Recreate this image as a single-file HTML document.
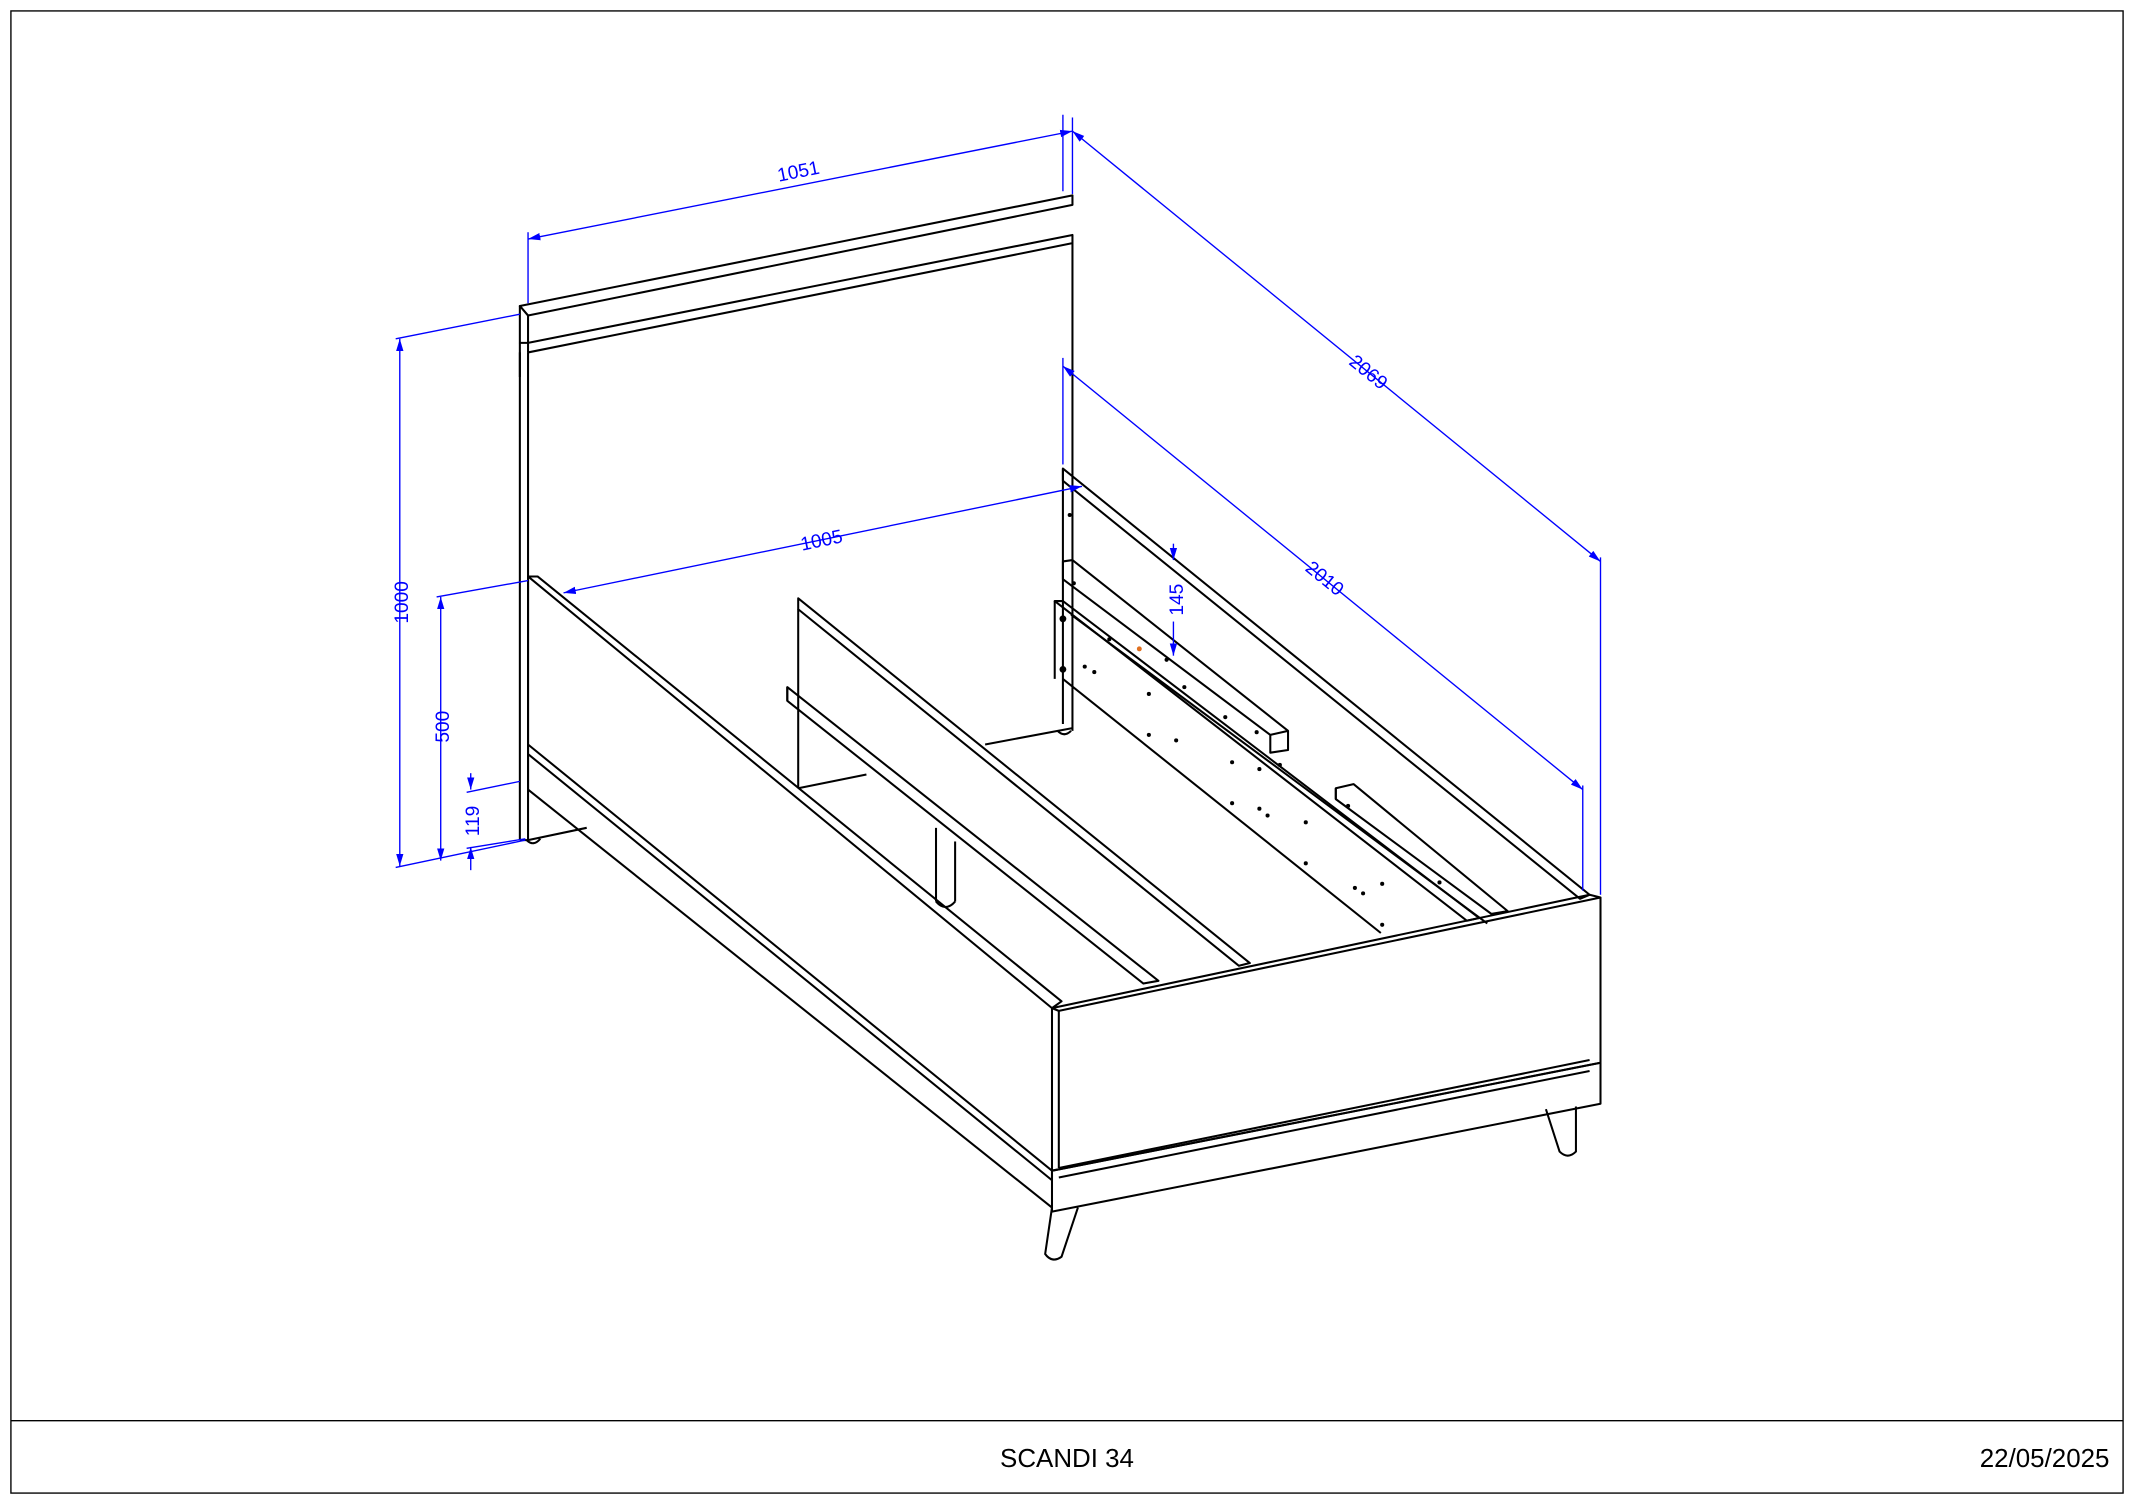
<!DOCTYPE html>
<html><head><meta charset="utf-8"><style>
html,body{margin:0;padding:0;background:#fff;}
svg{display:block;}
text{font-family:"Liberation Sans",sans-serif;}
</style></head><body>
<svg width="2134" height="1504" viewBox="0 0 1564 1101" preserveAspectRatio="none" xmlns="http://www.w3.org/2000/svg">
<defs>
<marker id="a" viewBox="0 0 10 10" refX="10" refY="5" markerWidth="9" markerHeight="9" orient="auto-start-reverse" markerUnits="userSpaceOnUse"><path d="M0,2 L10,5 L0,8 z" fill="#0000ff"/></marker>
</defs>
<rect x="8" y="8" width="1548" height="1085" fill="none" stroke="#000" stroke-width="1"/>
<line x1="8" y1="1040" x2="1556" y2="1040" stroke="#000"/>
<text x="782" y="1074" font-size="19" text-anchor="middle">SCANDI 34</text>
<text x="1546" y="1074" font-size="19" text-anchor="end">22/05/2025</text>

<g fill="none" stroke="#000" stroke-width="1.5" stroke-linejoin="round">
<!-- headboard -->
<polygon points="381,224 786,143 786,150 387,231"/>
<polygon points="381,224 387,231 387,251 381,251" fill="#fff"/>
<polyline points="387,251 786,172 786,178 387,258"/>
<line x1="387" y1="251" x2="387" y2="258"/>
<line x1="381" y1="251" x2="381" y2="276"/>
<line x1="381" y1="258" x2="381" y2="615"/>
<line x1="387" y1="258" x2="387" y2="615"/>
<line x1="381" y1="615" x2="387" y2="615"/>
<line x1="786" y1="178" x2="786" y2="535"/>
<line x1="722" y1="545" x2="786" y2="533"/>
<line x1="387" y1="615" x2="430" y2="606"/>
<!-- left side rail -->
<polygon points="387,422 394,422 778,733 771,738"/>
<line x1="387" y1="422" x2="387" y2="545"/>
<polygon points="387,545 771,857 771,864 387,552"/>
<line x1="387" y1="552" x2="387" y2="578"/>
<line x1="387" y1="578" x2="771" y2="884"/>
<!-- center beam -->
<polygon points="585,438 916,705 908,707 585,446"/>
<line x1="585" y1="446" x2="585" y2="577"/>
<line x1="585" y1="577" x2="635" y2="567"/>
<polygon points="577,503 849,718 838,720 577,513"/>
<line x1="577" y1="503" x2="577" y2="513"/>
<line x1="686" y1="606" x2="686" y2="660"/>
<line x1="700" y1="616" x2="700" y2="660"/>
<path d="M686,660 Q693,668 700,660"/>
<!-- right side rail -->
<polygon points="779,343 1165,655 1158,658 779,352"/>
<line x1="779" y1="343" x2="779" y2="440"/>
<polygon points="779,411 786,410 944,535 944,549 931,551 931,538 779,424"/>
<line x1="931" y1="538" x2="944" y2="535"/>
<polygon points="773,440 779,440 1084,672 1075,674"/>
<line x1="773" y1="440" x2="773" y2="497"/>
<line x1="779" y1="440" x2="779" y2="530"/>
<line x1="785" y1="450" x2="1090" y2="676"/>
<line x1="779" y1="497" x2="1012" y2="683"/>
<polygon points="979,577 992,574 1105,667 1093,669 979,585"/>
<line x1="979" y1="577" x2="979" y2="585"/>
<!-- footboard -->
<polygon points="771,738 1165,655 1173,657 776,740"/>
<line x1="771" y1="738" x2="771" y2="857"/>
<line x1="776" y1="740" x2="776" y2="855"/>
<line x1="1173" y1="657" x2="1173" y2="778"/>
<line x1="776" y1="855" x2="1165" y2="776"/>
<line x1="771" y1="857" x2="1173" y2="778"/>
<polygon points="771,857 1173,778 1173,808 771,887"/>
<line x1="776" y1="862" x2="1165" y2="784"/>
<!-- legs -->
<path d="M771,884 L766,918 Q771,925 778,920 L790,884"/>
<path d="M1133,812 L1143,843 Q1149,849 1155,843 L1155,810"/>
<path d="M386,615 Q391,620 396,614"/>
<path d="M775,535 Q780,540 785,535"/>
</g>
<g fill="#000">
<circle cx="784" cy="377" r="1.5"/><circle cx="787" cy="427" r="1.5"/><circle cx="779" cy="453" r="2.5"/><circle cx="779" cy="490" r="2.5"/>
<circle cx="795" cy="488" r="1.5"/><circle cx="802" cy="492" r="1.5"/><circle cx="813" cy="468" r="1.5"/>
<circle cx="855" cy="483" r="1.5"/><circle cx="868" cy="503" r="1.5"/><circle cx="898" cy="525" r="1.5"/><circle cx="921" cy="536" r="1.5"/>
<circle cx="842" cy="508" r="1.5"/><circle cx="842" cy="538" r="1.5"/><circle cx="862" cy="542" r="1.5"/><circle cx="903" cy="558" r="1.5"/>
<circle cx="923" cy="563" r="1.5"/><circle cx="938" cy="560" r="1.5"/><circle cx="957" cy="602" r="1.5"/><circle cx="903" cy="588" r="1.5"/>
<circle cx="923" cy="592" r="1.5"/><circle cx="929" cy="597" r="1.5"/><circle cx="957" cy="632" r="1.5"/><circle cx="993" cy="650" r="1.5"/>
<circle cx="999" cy="654" r="1.5"/><circle cx="1013" cy="647" r="1.5"/><circle cx="1013" cy="677" r="1.5"/><circle cx="988" cy="590" r="1.5"/>
<circle cx="1055" cy="646" r="1.5"/>
</g>
<circle cx="835" cy="475" r="1.8" fill="#e07020"/>

<g stroke="#0000ff" stroke-width="1" fill="none">
<line x1="387" y1="175" x2="786" y2="96" marker-start="url(#a)" marker-end="url(#a)"/>
<line x1="387" y1="170" x2="387" y2="222"/>
<line x1="779" y1="84" x2="779" y2="140"/>
<line x1="786" y1="86" x2="786" y2="142"/>
<line x1="786" y1="96" x2="1173" y2="411" marker-start="url(#a)" marker-end="url(#a)"/>
<line x1="1173" y1="408" x2="1173" y2="655"/>
<line x1="779" y1="268" x2="1160" y2="578" marker-start="url(#a)" marker-end="url(#a)"/>
<line x1="779" y1="262" x2="779" y2="340"/>
<line x1="1160" y1="575" x2="1160" y2="652"/>
<line x1="413" y1="434" x2="793" y2="356" marker-start="url(#a)" marker-end="url(#a)"/>
<line x1="293" y1="248" x2="293" y2="634" marker-start="url(#a)" marker-end="url(#a)"/>
<line x1="290" y1="248" x2="381" y2="230"/>
<line x1="290" y1="635" x2="385" y2="615"/>
<line x1="323" y1="437" x2="323" y2="630" marker-start="url(#a)" marker-end="url(#a)"/>
<line x1="320" y1="437" x2="387" y2="425"/>
<line x1="345" y1="566" x2="345" y2="578" marker-end="url(#a)"/>
<line x1="345" y1="637" x2="345" y2="620" marker-end="url(#a)"/>
<line x1="342" y1="580" x2="381" y2="572"/>
<line x1="342" y1="621" x2="385" y2="614"/>
<line x1="860" y1="398" x2="860" y2="410" marker-end="url(#a)"/>
<line x1="860" y1="455" x2="860" y2="480" marker-end="url(#a)"/>
</g>
<g fill="#0000ff" font-size="14">
<text transform="translate(586,130) rotate(-11.2)" text-anchor="middle">1051</text>
<text transform="translate(1000,276) rotate(39.1)" text-anchor="middle">2069</text>
<text transform="translate(968,427) rotate(39.1)" text-anchor="middle">2010</text>
<text transform="translate(603,400) rotate(-11.6)" text-anchor="middle">1005</text>
<text transform="translate(299,441) rotate(-90)" text-anchor="middle">1000</text>
<text transform="translate(329,532) rotate(-90)" text-anchor="middle">500</text>
<text transform="translate(351,601) rotate(-90)" text-anchor="middle">119</text>
<text transform="translate(867,439) rotate(-90)" text-anchor="middle">145</text>
</g>
</svg>
</body></html>
